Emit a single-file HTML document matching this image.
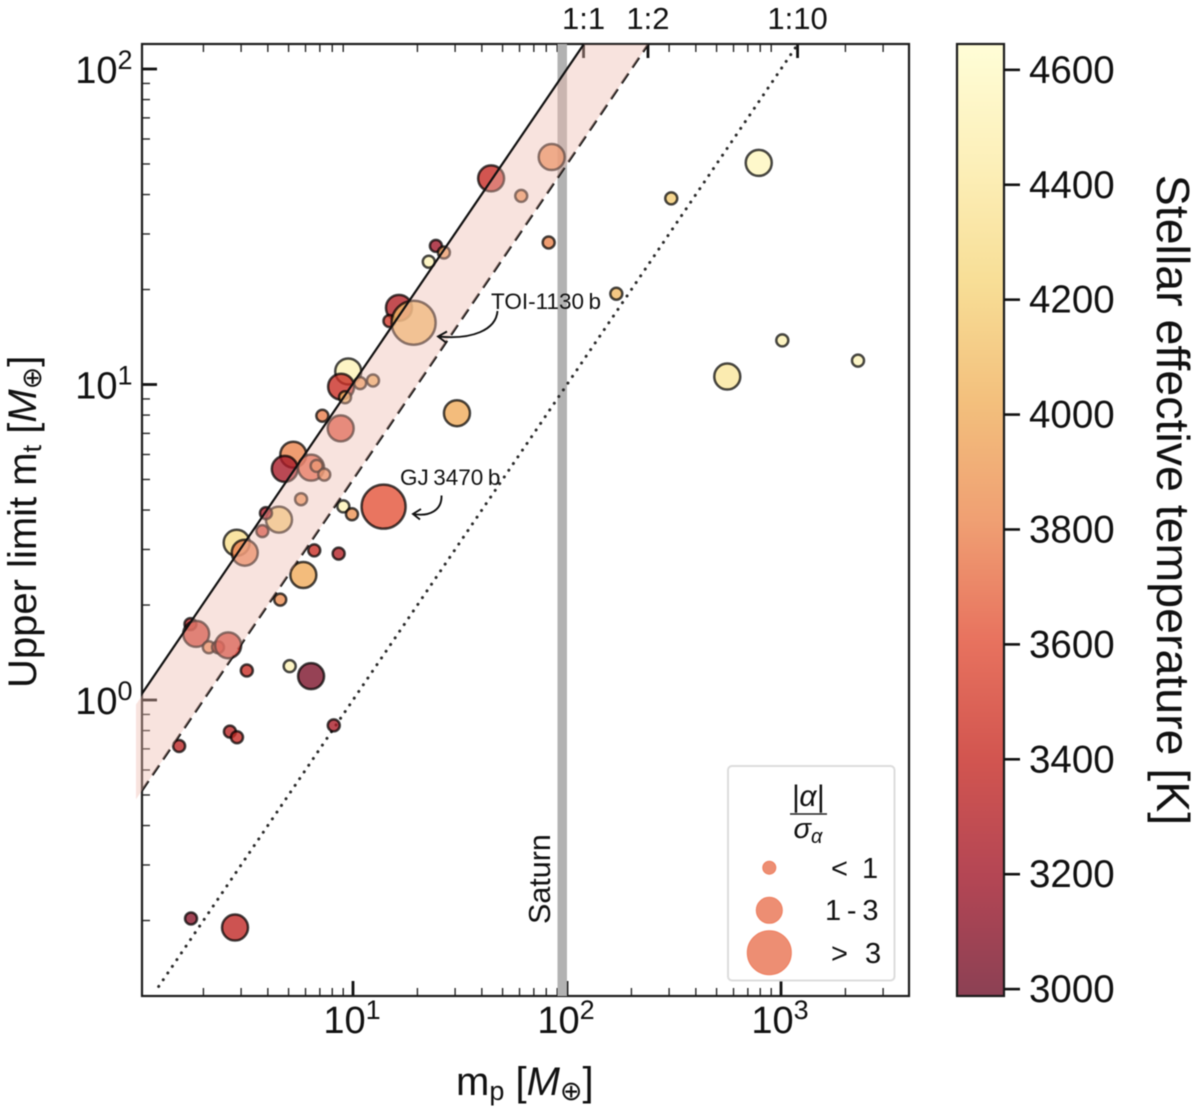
<!DOCTYPE html>
<html lang="en">
<head>
<meta charset="utf-8">
<title>Upper limit mass vs planet mass</title>
<style>
html,body{margin:0;padding:0;background:#fff;width:1200px;height:1115px;overflow:hidden}
svg{display:block;filter:blur(0.55px)}
text{font-family:"Liberation Sans","DejaVu Sans",sans-serif;fill:#111}
</style>
</head>
<body>
<svg id="chart" xmlns="http://www.w3.org/2000/svg" width="1200" height="1115" viewBox="0 0 1200 1115">
  <defs>
    <linearGradient id="cbar-gradient" x1="0" y1="1" x2="0" y2="0"></linearGradient>
    <clipPath id="axes-clip"><rect x="142" y="44" width="767" height="952"></rect></clipPath>
  </defs>
  <g id="layer-axes"></g>
  <g id="layer-reference" clip-path="url(#axes-clip)"></g>
  <g id="layer-points"></g>
  <g id="layer-shade"></g>
  <g id="layer-solid" clip-path="url(#axes-clip)"></g>
  <g id="layer-labels"></g>

  <text transform="translate(550,924) rotate(-90)" font-size="30.5">Saturn</text>

  <g>
    <text x="491" y="309" font-size="22.5">TOI-1130&#8201;b</text>
    <path d="M497.5,311 C496,330 472,340 438,336.5 M447,331.5 L438,336.5 L446,342.5" fill="none" stroke="#111" stroke-width="1.9"></path>
  </g>
  <g>
    <text x="400" y="485" font-size="22.5">GJ&#8201;3470&#8201;b</text>
    <path d="M441.5,495.5 C442,510 430,517 413,514 M421,509 L413,514 L420,519.5" fill="none" stroke="#111" stroke-width="1.9"></path>
  </g>

  <g>
    <rect x="728" y="766" width="166.500" height="214.500" rx="4" fill="#fff" fill-opacity="0.9" stroke="#dcdcdc" stroke-width="2"></rect>
    <text x="808" y="806" font-size="30" text-anchor="middle" font-style="italic">|α|</text>
    <line x1="790" x2="827" y1="814" y2="814" stroke="#222" stroke-width="1.6"></line>
    <text x="808" y="838" font-size="29" text-anchor="middle" font-style="italic">σ<tspan font-size="20" dy="5">α</tspan></text>
    <circle cx="769.300" cy="867.700" r="6.500" fill="#ec8467" fill-opacity="0.92" stroke="#ee7f60" stroke-width="1"></circle>
    <circle cx="769.300" cy="910.300" r="13" fill="#ec8467" fill-opacity="0.92" stroke="#ee7f60" stroke-width="1"></circle>
    <circle cx="769.300" cy="952.700" r="22" fill="#ec8467" fill-opacity="0.92" stroke="#ee7f60" stroke-width="1"></circle>
    <text x="831" y="878" font-size="29" word-spacing="6">&lt; 1</text>
    <text x="825" y="920" font-size="29">1&#8201;-&#8201;3</text>
    <text x="831" y="963" font-size="29" word-spacing="9">&gt; 3</text>
  </g>

  <text transform="translate(36,688) rotate(-90)" font-size="40">Upper limit m<tspan font-size="27" dy="5">t</tspan><tspan dy="-5"> [</tspan><tspan font-style="italic">M</tspan><tspan font-size="27" dy="5">⊕</tspan><tspan dy="-5">]</tspan></text>
  <text x="456" y="1095" font-size="40">m<tspan font-size="27" dy="5">p</tspan><tspan dy="-5"> [</tspan><tspan font-style="italic">M</tspan><tspan font-size="27" dy="5">⊕</tspan><tspan dy="-5">]</tspan></text>
  <text transform="translate(1157,500) rotate(90)" font-size="46.500" text-anchor="middle">Stellar effective temperature [K]</text>

  <g id="layer-colorbar"></g>
</svg>

<script>
// ---- data ----
const planetMass = [44.2,61.1,24.4,26.6,22.6,16.4,14.8,19.2,9.5,8.8,10.8,12.4,9.18,7.19,8.76,30.6,5.26,4.8,6.37,6.76,7.34,5.72,9.01,9.89,13.9,4.51,3.92,3.77,2.86,3.12,6.59,8.57,5.86,4.57,1.74,1.85,2.12,2.34,2.61,3.19,5.06,6.37,2.66,2.87,1.54,8.13,84.8,307,787,82.1,170,1014,2290,561,1.75,2.81];
const upperLimit = [45,39.6,27.5,26.2,24.5,17.5,15.9,15.7,11,9.84,10.1,10.3,9.11,7.96,7.26,8.11,5.99,5.4,5.45,5.52,5.18,4.33,4.11,3.88,4.1,3.73,3.91,3.43,3.15,2.93,2.98,2.91,2.49,2.08,1.74,1.62,1.47,1.47,1.49,1.24,1.28,1.19,0.794,0.762,0.715,0.831,52.6,38.9,50.4,28.2,19.4,13.8,11.9,10.6,0.203,0.19];
const stellarTemp = [3400,3880,3200,3900,4520,3300,3500,4080,4520,3420,3900,4000,4050,3780,3560,4000,3800,3240,3640,3780,3800,3860,4520,3880,3620,4200,3250,3480,4300,3780,3420,3300,4000,3840,3320,3450,3800,3520,3460,3420,4520,3040,3340,3400,3340,3250,3820,4180,4560,3800,4080,4500,4540,4380,3100,3370];
const significance = [2,0.5,0.5,0.5,0.5,2,0.5,4,2,2,0.5,0.5,0.5,0.5,2,2,2,2,2,0.5,0.5,0.5,0.5,0.5,4,2,0.5,0.5,2,2,0.5,0.5,2,0.5,0.5,2,0.5,0.5,2,0.5,0.5,2,0.5,0.5,0.5,0.5,2,0.5,2,0.5,0.5,0.5,0.5,2,0.5,2];

const xMajorTicks = [10,100,1000];
const xMajorExponents = ["1","2","3"];
const yMajorTicks = [100,10,1];
const yMajorExponents = ["2","1","0"];
const minorMultiples = [2,3,4,5,6,7,8,9];
const minorDecades = [1,10,100,1000];
const yMinorDecades = [0.1,1,10];
const topRatios = [1,2,10];
const topLabels = ["1:1","1:2","1:10"];
const dilutionDashed = 2;
const dilutionDotted = 10;
const saturnMass = 95;
const colorbarTicks = [3000,3200,3400,3600,3800,4000,4200,4400,4600];
const colormap = ["#6f112a","#a1182a","#c72b24","#e25037","#ec8850","#f0b05c","#f6d67c","#fceca8","#fffdcd"];

// ---- axis functions ----
const xPx = v => 353 + 214 * (Math.log10(v) - 1);
const yPx = v => 700 - 315.5 * Math.log10(v);
const xMin = 1.03, xMax = 3960, yMin = 0.1165, yMax = 119.5;
const tempMin = 2988, tempMax = 4645;
const tempPx = t => 996 - (t - tempMin) / (tempMax - tempMin) * 952;
const radius = s => s < 1 ? 6 : (s <= 3 ? 13 : 22);

const NS = 'http://www.w3.org/2000/svg';
function make(tag, attrs, parent, txt) {
  const el = document.createElementNS(NS, tag);
  for (const k in attrs) el.setAttribute(k, attrs[k]);
  if (txt !== undefined) el.textContent = txt;
  parent.appendChild(el);
  return el;
}
function tempColor(t) {
  const p = Math.min(Math.max((t - tempMin) / (tempMax - tempMin), 0), 1) * (colormap.length - 1);
  const i = Math.min(Math.floor(p), colormap.length - 2), f = p - i;
  const a = colormap[i], b = colormap[i + 1];
  const ch = (c, o) => parseInt(c.substr(o, 2), 16);
  const mix = o => Math.round(ch(a, o) + (ch(b, o) - ch(a, o)) * f);
  return 'rgb(' + mix(1) + ',' + mix(3) + ',' + mix(5) + ')';
}

const axes = document.getElementById('layer-axes');
const refs = document.getElementById('layer-reference');
const shadeLayer = document.getElementById('layer-shade');
const solidLayer = document.getElementById('layer-solid');
const pointsLayer = document.getElementById('layer-points');
const labels = document.getElementById('layer-labels');
const cbarLayer = document.getElementById('layer-colorbar');
const TICK = '#262626';

// ---- minor ticks ----
minorDecades.forEach(d => minorMultiples.forEach(m => {
  const v = d * m;
  if (v < xMin || v > xMax) return;
  const bottom = make('line', {x1:xPx(v),x2:xPx(v),y1:996,y2:988,stroke:TICK,'stroke-width':1.4}, axes);
  
  
  if (v === 200) return;
  const top = make('line', {x1:xPx(v),x2:xPx(v),y1:44,y2:52,stroke:TICK,'stroke-width':1.4}, axes);
  
  
}));
yMinorDecades.forEach(d => minorMultiples.forEach(m => {
  const v = d * m;
  if (v < yMin || v > yMax) return;
  const tick = make('line', {x1:142,x2:150,y1:yPx(v),y2:yPx(v),stroke:TICK,'stroke-width':1.4}, axes);
  
  
}));

// ---- major ticks and labels ----
xMajorTicks.forEach((v, i) => {
  const tick = make('line', {x1:xPx(v),x2:xPx(v),y1:996,y2:981,stroke:'#111','stroke-width':2.8}, axes);
  
  
  const lab = make('text', {x:xPx(v)-1,y:1033,'font-size':38,'text-anchor':'middle'}, labels, '10');
  
  
  make('tspan', {'font-size':27,dy:-14}, lab, xMajorExponents[i]);
});
yMajorTicks.forEach((v, i) => {
  const tick = make('line', {x1:142,x2:157,y1:yPx(v),y2:yPx(v),stroke:'#111','stroke-width':2.8}, axes);
  
  
  const lab = make('text', {x:132.5,y:yPx(v)+14,'font-size':38,'text-anchor':'end'}, labels, '10');
  
  
  make('tspan', {'font-size':27,dy:-14}, lab, yMajorExponents[i]);
});
topRatios.forEach((r, i) => {
  const x = xPx(yMax * r);
  const tick = make('line', {x1:x,x2:x,y1:44,y2:58,stroke:'#111','stroke-width':2.8}, axes);
  
  
  const lab = make('text', {x:x,y:29,'font-size':31,'text-anchor':'middle'}, labels, topLabels[i]);
  
  
});

// ---- frame ----
const frame = make('rect', {x:142,y:44,width:767,height:952,fill:'none',stroke:'#1c1c1c','stroke-width':2.2}, axes);



// ---- Saturn band, reference lines ----
const saturn = make('line', {x1:xPx(saturnMass),x2:xPx(saturnMass),y1:44,y2:996,stroke:'#b2b2b2','stroke-width':9.5}, refs);



const dashed = make('line', {x1:xPx(xMin),y1:yPx(xMin/dilutionDashed),x2:xPx(yMax*dilutionDashed),y2:yPx(yMax),stroke:'#111','stroke-width':2.4,'stroke-dasharray':'12 7'}, refs);



const dotted = make('line', {x1:xPx(xMin*dilutionDotted*0.12),y1:yPx(xMin*0.12),x2:xPx(yMax*dilutionDotted),y2:yPx(yMax),stroke:'#2a2a2a','stroke-width':3,'stroke-dasharray':'0.1 8','stroke-linecap':'round'}, refs);



// ---- scatter points (drawn beneath the shaded band) ----
planetMass.forEach((m, i) => {
  const c = make('circle', {cx:xPx(m),cy:yPx(upperLimit[i]),r:radius(significance[i]),fill:tempColor(stellarTemp[i]),'fill-opacity':0.8,stroke:'#000','stroke-opacity':0.72,'stroke-width':2.5}, pointsLayer);
  
  
});

// ---- shaded band between 1:1 and 1:2 ----
const fillStart = 0.968;
const shadeCorners = [[fillStart,fillStart],[yMax,yMax],[yMax*dilutionDashed,yMax],[fillStart,fillStart/dilutionDashed]];
const shade = make('polygon', {points:shadeCorners.map(c => xPx(c[0]) + ',' + yPx(c[1])).join(' '),fill:'rgb(237,185,172)','fill-opacity':0.4}, shadeLayer);



const solid = make('line', {x1:xPx(xMin),y1:yPx(xMin)-2,x2:xPx(yMax),y2:yPx(yMax),stroke:'#111','stroke-width':2.2}, solidLayer);



// ---- colorbar ----
const grad = document.getElementById('cbar-gradient');
colormap.forEach((col, i) => {
  make('stop', {offset:i/(colormap.length-1),'stop-color':col,'stop-opacity':0.8}, grad);
});
const cbarBody = make('rect', {x:957,y:44,width:47,height:952,fill:'url(#cbar-gradient)',stroke:'#1c1c1c','stroke-width':2.2}, cbarLayer);


colorbarTicks.forEach(t => {
  const tick = make('line', {x1:1004,x2:1020,y1:tempPx(t),y2:tempPx(t),stroke:'#111','stroke-width':2.6}, cbarLayer);
  
  
  const lab = make('text', {x:1029,y:tempPx(t)+13,'font-size':38.5}, cbarLayer, String(t));
  
  
});
</script>
</body>
</html>
